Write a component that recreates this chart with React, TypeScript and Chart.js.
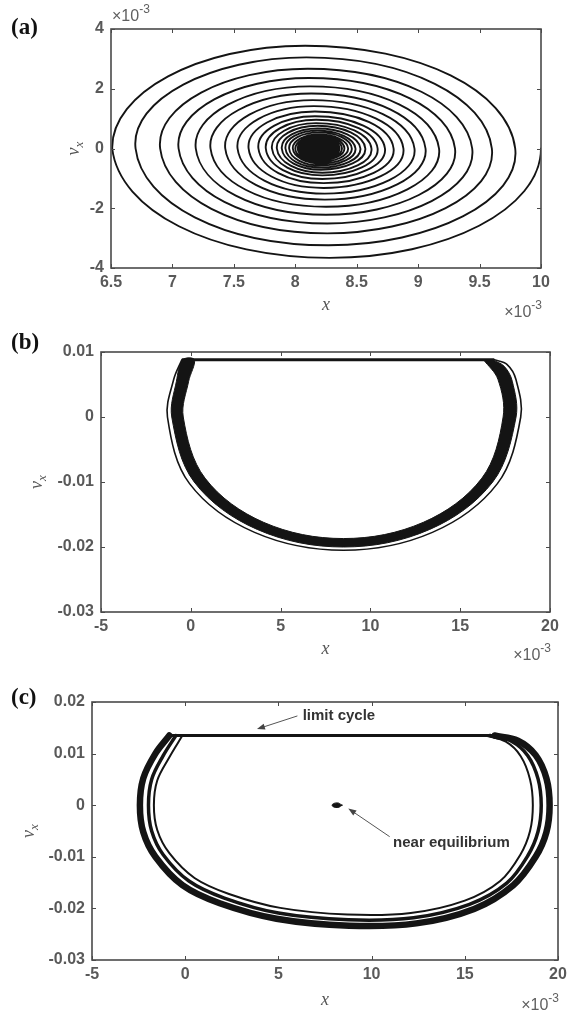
import React, { useEffect, useRef } from 'react';
import { Chart, registerables } from 'chart.js';

Chart.register(...registerables);

const PAGE_W = 576;
const TRACE = '#141414';
const AXIS = '#4a4a4a';
const TICK_TEXT = '#595959';
const SANS = '"Liberation Sans", Arial, Helvetica, sans-serif';
const SERIF = '"Liberation Serif", "Times New Roman", serif';

// ---------------- panel (a) : x in 1e-3, v_x in 1e-3 ----------------
const aXTicks = [6.5, 7, 7.5, 8, 8.5, 9, 9.5, 10];
const aXTickLabels = ['6.5', '7', '7.5', '8', '8.5', '9', '9.5', '10'];
const aYTicks = [-4, -2, 0, 2, 4];
const aYTickLabels = ['-4', '-2', '0', '2', '4'];
// lead-in state a quarter period before the start (segment drawn invisible, only sets the start tangent)
const aLeadInX = [8.2];
const aLeadInV = [3.85];
// turning points on v_x = 0 (right, left, right, left ...)
const aTurnX = [
  10.0, 6.51, 9.79, 6.7, 9.6, 6.9, 9.44, 7.05, 9.3, 7.19, 9.17, 7.31, 9.06, 7.43,
  8.97, 7.53, 8.88, 7.62, 8.8, 7.7, 8.73, 7.76, 8.67, 7.81, 8.62, 7.85, 8.57, 7.89,
  8.53, 7.92, 8.49, 7.95, 8.46, 7.98, 8.43, 8.0, 8.4, 8.02, 8.38, 8.03, 8.36, 8.04,
  8.35, 8.05, 8.34, 8.06, 8.33, 8.07, 8.32, 8.08, 8.31, 8.09, 8.3, 8.1, 8.29, 8.11,
  8.28, 8.12, 8.27, 8.13, 8.26, 8.14, 8.25, 8.15, 8.24, 8.16, 8.23, 8.17, 8.22, 8.18,
  8.21, 8.19, 8.2,
];
// velocity extremes between turning points (bottom, top, bottom ...)
const aPeakV = [
  -3.66, 3.44, -3.24, 3.05, -2.84, 2.67, -2.51, 2.36, -2.22, 2.08, -1.95, 1.84,
  -1.71, 1.62, -1.51, 1.42, -1.32, 1.24, -1.16, 1.08, -1.02, 0.96, -0.9, 0.85,
  -0.81, 0.76, -0.71, 0.67, -0.64, 0.6, -0.57, 0.54, -0.5, 0.47, -0.45, 0.42,
  -0.4, 0.38, -0.37, 0.36, -0.34, 0.33, -0.32, 0.31, -0.3, 0.29, -0.27, 0.26,
  -0.25, 0.24, -0.23, 0.22, -0.21, 0.2, -0.19, 0.18, -0.17, 0.16, -0.15, 0.14,
  -0.13, 0.12, -0.11, 0.1, -0.09, 0.08, -0.07, 0.06, -0.05, 0.04, -0.03, 0.02,
];
const aPeakX = [
  8.28, 8.08, 8.27, 8.09, 8.26, 8.1, 8.26, 8.11, 8.25, 8.12, 8.25, 8.13, 8.24, 8.14,
  8.24, 8.15, 8.23, 8.16, 8.23, 8.16, 8.22, 8.17, 8.22, 8.17, 8.22, 8.18, 8.21, 8.18,
  8.21, 8.18, 8.21, 8.19, 8.21, 8.19, 8.2, 8.2, 8.2, 8.2, 8.2, 8.2, 8.2, 8.2,
  8.2, 8.2, 8.2, 8.2, 8.2, 8.2, 8.2, 8.2, 8.2, 8.2, 8.2, 8.2, 8.2, 8.2,
  8.2, 8.2, 8.2, 8.2, 8.2, 8.2, 8.2, 8.2, 8.2, 8.2, 8.2, 8.2, 8.2, 8.2,
  8.2, 8.2,
];

// ---------------- panel (b) : x in 1e-3 ----------------
const bXTicks = [-5, 0, 5, 10, 15, 20];
const bXTickLabels = ['-5', '0', '5', '10', '15', '20'];
const bYTicks = [-0.03, -0.02, -0.01, 0, 0.01];
const bYTickLabels = ['-0.03', '-0.02', '-0.01', '0', '0.01'];
const bBandOuterX = [16.8, 17.45, 17.9, 18.11, 16.81, 13.3, 8.5, 3.7, 0.19, -1.06, -0.8, -0.45];
const bBandOuterV = [0.0088, 0.0078, 0.0055, 0, -0.01, -0.0173, -0.02, -0.0173, -0.01, 0, 0.0055, 0.0088];
const bBandInnerX = [0.2, -0.12, -0.42, 0.79, 4.05, 8.5, 12.95, 16.21, 17.39, 17.1, 16.3];
const bBandInnerV = [0.0088, 0.0055, 0, -0.0094, -0.0162, -0.0187, -0.0162, -0.0094, 0, 0.0058, 0.0088];
const bThinX = [16.9, 17.6, 18.1, 18.37, 17.07, 13.45, 8.5, 3.55, -0.07, -1.3, -0.95, -0.5];
const bThinV = [0.0088, 0.0081, 0.0058, 0, -0.01025, -0.01775, -0.0205, -0.01775, -0.01025, 0, 0.0058, 0.0088];
const bStickX = [-0.5, 16.9];
const bStickV = [0.0088, 0.0088];

// ---------------- panel (c) : x in 1e-3 ----------------
const cXTicks = [-5, 0, 5, 10, 15, 20];
const cXTickLabels = ['-5', '0', '5', '10', '15', '20'];
const cYTicks = [-0.03, -0.02, -0.01, 0, 0.01, 0.02];
const cYTickLabels = ['-0.03', '-0.02', '-0.01', '0', '0.01', '0.02'];
const cLoopAX = [16.6, 17.85, 18.8, 19.38, 19.55, 19.38, 18.8, 17.6, 15.5, 12.4, 8.8, 4.9, 1.85, -0.15, -1.6, -2.25, -2.43, -2.25, -1.6, -0.85];
const cLoopAV = [0.0135, 0.0125, 0.0097, 0.0052, 0, -0.0052, -0.01, -0.0155, -0.0201, -0.0229, -0.02335, -0.022, -0.019, -0.0155, -0.01, -0.0052, 0, 0.0052, 0.01, 0.0135];
const cLoopBX = [16.35, 17.5, 18.38, 18.93, 19.1, 18.93, 18.38, 17.25, 15.25, 12.25, 8.75, 5.0, 2.1, 0.2, -1.18, -1.8, -1.97, -1.8, -1.18, -0.5];
const cLoopBV = [0.0135, 0.0124, 0.0096, 0.0051, 0, -0.0051, -0.0098, -0.0151, -0.0192, -0.0218, -0.0222, -0.0209, -0.018, -0.0147, -0.0096, -0.005, 0, 0.005, 0.0096, 0.0135];
const cLoopCX = [16.1, 17.2, 18.0, 18.5, 18.65, 18.5, 17.98, 16.9, 15.0, 12.1, 8.7, 5.1, 2.35, 0.5, -0.85, -1.5, -1.68, -1.5, -0.85, -0.15];
const cLoopCV = [0.0135, 0.0123, 0.0095, 0.005, 0, -0.005, -0.0096, -0.0147, -0.0185, -0.0209, -0.0212, -0.0199, -0.0172, -0.0141, -0.0093, -0.0048, 0, 0.0048, 0.0093, 0.0135];
const cStickX = [-0.9, 16.6];
const cStickV = [0.0135, 0.0135];
const cDotX = [8.42, 8.15, 7.88, 8.15, 8.42];
const cDotV = [0, -0.00045, 0, 0.00045, 0];
const cNoteText = ['limit cycle', 'near equilibrium'];
const cNoteX = [6.3, 11.15];
const cNoteV = [0.0173, -0.0073];
const cArrowFromX = [6.02, 10.97];
const cArrowFromV = [0.0173, -0.0061];
const cArrowToX = [3.85, 8.75];
const cArrowToV = [0.01475, -0.00065];

type Pt = { x: number; y: number };
const pts = (xs: number[], vs: number[]): Pt[] => xs.map((x, i) => ({ x, y: vs[i] }));

function spiralPoints(): Pt[] {
  const out: Pt[] = pts(aLeadInX, aLeadInV);
  for (let i = 0; i < aTurnX.length; i++) {
    out.push({ x: aTurnX[i], y: 0 });
    if (i < aPeakV.length) out.push({ x: aPeakX[i], y: aPeakV[i] });
  }
  return out;
}

const line = (data: Pt[], width: number, tension: number, extra: any = {}) => ({
  data,
  showLine: true,
  pointRadius: 0,
  borderColor: TRACE,
  backgroundColor: TRACE,
  borderWidth: width,
  tension,
  fill: false,
  borderJoinStyle: 'round',
  borderCapStyle: 'round',
  ...extra,
});

type Spec = {
  id: string;
  top: number;
  height: number;
  area: { l: number; r: number; t: number; b: number };
  xRange: [number, number];
  yRange: [number, number];
  xTicks: number[];
  xTickLabels: string[];
  yTicks: number[];
  yTickLabels: string[];
  datasets: any[];
  label: string;
  labelY: number;
  xTitleY: number;
  multY: number;
  multTopY?: number;
  vTitleX: number;
  notes?: boolean;
};

const specs: Spec[] = [
  {
    id: 'a',
    top: 0,
    height: 330,
    area: { l: 111, r: 541, t: 29, b: 268 },
    xRange: [6.5, 10],
    yRange: [-4, 4],
    xTicks: aXTicks,
    xTickLabels: aXTickLabels,
    yTicks: aYTicks,
    yTickLabels: aYTickLabels,
    datasets: [
      line(spiralPoints(), 1.9, 0.55, {
        segment: { borderColor: (c: any) => (c.p0DataIndex === 0 ? 'rgba(0,0,0,0)' : undefined) },
      }),
    ],
    label: '(a)',
    labelY: 28,
    xTitleY: 305,
    multY: 313,
    multTopY: 17,
    vTitleX: 75,
  },
  {
    id: 'b',
    top: 330,
    height: 340,
    area: { l: 101, r: 550, t: 22, b: 282 },
    xRange: [-5, 20],
    yRange: [-0.03, 0.01],
    xTicks: bXTicks,
    xTickLabels: bXTickLabels,
    yTicks: bYTicks,
    yTickLabels: bYTickLabels,
    datasets: [
      line(pts(bStickX, bStickV), 3, 0, { borderCapStyle: 'butt' }),
      line(pts(bThinX, bThinV), 1.6, 0.35),
      line(pts(bBandOuterX.concat(bBandInnerX), bBandOuterV.concat(bBandInnerV)), 1, 0.35, { fill: 'shape' }),
    ],
    label: '(b)',
    labelY: 13,
    xTitleY: 319,
    multY: 326,
    vTitleX: 38,
  },
  {
    id: 'c',
    top: 670,
    height: 344,
    area: { l: 92, r: 558, t: 32, b: 290 },
    xRange: [-5, 20],
    yRange: [-0.03, 0.02],
    xTicks: cXTicks,
    xTickLabels: cXTickLabels,
    yTicks: cYTicks,
    yTickLabels: cYTickLabels,
    datasets: [
      line(pts(cStickX, cStickV), 3, 0, { borderCapStyle: 'butt' }),
      line(pts(cDotX, cDotV), 1, 0.55, { fill: 'shape' }),
      line(pts(cLoopCX, cLoopCV), 2, 0.35),
      line(pts(cLoopBX, cLoopBV), 3.5, 0.35),
      line(pts(cLoopAX, cLoopAV), 6.5, 0.35),
    ],
    label: '(c)',
    labelY: 28,
    xTitleY: 330,
    multY: 336,
    vTitleX: 30,
    notes: true,
  },
];

function drawMult(ctx: CanvasRenderingContext2D, x: number, y: number, align: 'left' | 'right') {
  ctx.font = `16px ${SANS}`;
  const w1 = ctx.measureText('\u00d710').width;
  ctx.font = `12px ${SANS}`;
  const w2 = ctx.measureText('-3').width;
  const x0 = align === 'left' ? x : x - w1 - w2;
  ctx.fillStyle = '#606060';
  ctx.textAlign = 'left';
  ctx.textBaseline = 'middle';
  ctx.font = `16px ${SANS}`;
  ctx.fillText('\u00d710', x0, y);
  ctx.font = `12px ${SANS}`;
  ctx.fillText('-3', x0 + w1, y - 7);
}

function drawArrow(ctx: CanvasRenderingContext2D, x1: number, y1: number, x2: number, y2: number) {
  const ang = Math.atan2(y2 - y1, x2 - x1);
  const hl = 8;
  const hw = 3;
  ctx.strokeStyle = '#555';
  ctx.fillStyle = '#444';
  ctx.lineWidth = 1;
  ctx.beginPath();
  ctx.moveTo(x1, y1);
  ctx.lineTo(x2 - Math.cos(ang) * hl * 0.8, y2 - Math.sin(ang) * hl * 0.8);
  ctx.stroke();
  ctx.beginPath();
  ctx.moveTo(x2, y2);
  ctx.lineTo(x2 - Math.cos(ang) * hl - Math.sin(ang) * hw, y2 - Math.sin(ang) * hl + Math.cos(ang) * hw);
  ctx.lineTo(x2 - Math.cos(ang) * hl + Math.sin(ang) * hw, y2 - Math.sin(ang) * hl - Math.cos(ang) * hw);
  ctx.closePath();
  ctx.fill();
}

function decor(spec: Spec) {
  return {
    id: 'decor_' + spec.id,
    afterDraw(chart: any) {
      const ctx: CanvasRenderingContext2D = chart.ctx;
      const { left, right, top, bottom } = chart.chartArea;
      const xs = chart.scales.x;
      const ys = chart.scales.y;
      ctx.save();
      ctx.strokeStyle = AXIS;
      ctx.lineWidth = 1;
      ctx.beginPath();
      const T = 4;
      for (const v of spec.xTicks) {
        const px = Math.round(xs.getPixelForValue(v)) + 0.5;
        ctx.moveTo(px, bottom);
        ctx.lineTo(px, bottom - T);
        ctx.moveTo(px, top);
        ctx.lineTo(px, top + T);
      }
      for (const v of spec.yTicks) {
        const py = Math.round(ys.getPixelForValue(v)) + 0.5;
        ctx.moveTo(left, py);
        ctx.lineTo(left + T, py);
        ctx.moveTo(right, py);
        ctx.lineTo(right - T, py);
      }
      ctx.stroke();
      ctx.lineWidth = 1.6;
      ctx.strokeRect(left, top, right - left, bottom - top);

      ctx.fillStyle = '#111';
      ctx.font = `bold 23px ${SERIF}`;
      ctx.textAlign = 'left';
      ctx.textBaseline = 'middle';
      ctx.fillText(spec.label, 11, spec.labelY);

      ctx.fillStyle = '#555';
      ctx.font = `italic 18px ${SERIF}`;
      ctx.textAlign = 'center';
      ctx.fillText('x', (left + right) / 2, spec.xTitleY);

      ctx.save();
      ctx.translate(spec.vTitleX, (top + bottom) / 2);
      ctx.rotate(-Math.PI / 2);
      ctx.font = `italic 18px ${SERIF}`;
      const wv = ctx.measureText('v').width;
      ctx.font = `italic 13px ${SERIF}`;
      const wx = ctx.measureText('x').width;
      const x0 = -(wv + wx) / 2;
      ctx.textAlign = 'left';
      ctx.textBaseline = 'alphabetic';
      ctx.font = `italic 18px ${SERIF}`;
      ctx.fillText('v', x0, 4);
      ctx.font = `italic 13px ${SERIF}`;
      ctx.fillText('x', x0 + wv, 8);
      ctx.restore();

      drawMult(ctx, right + 1, spec.multY, 'right');
      if (spec.multTopY !== undefined) drawMult(ctx, left + 1, spec.multTopY, 'left');

      if (spec.notes) {
        for (let i = 0; i < cNoteText.length; i++) {
          drawArrow(
            ctx,
            xs.getPixelForValue(cArrowFromX[i]),
            ys.getPixelForValue(cArrowFromV[i]),
            xs.getPixelForValue(cArrowToX[i]),
            ys.getPixelForValue(cArrowToV[i])
          );
          ctx.fillStyle = '#333';
          ctx.font = `bold 15px ${SANS}`;
          ctx.textAlign = 'left';
          ctx.textBaseline = 'middle';
          ctx.fillText(cNoteText[i], xs.getPixelForValue(cNoteX[i]), ys.getPixelForValue(cNoteV[i]));
        }
      }
      ctx.restore();
    },
  };
}

function Panel({ spec }: { spec: Spec }) {
  const ref = useRef<HTMLCanvasElement | null>(null);
  useEffect(() => {
    if (!ref.current) return;
    const lookup = (ticks: number[], labels: string[]) => (value: any) => {
      const i = ticks.findIndex((t) => Math.abs(t - Number(value)) < 1e-9);
      return i >= 0 ? labels[i] : '';
    };
    const tickFont = { family: SANS, size: 16, weight: 'bold' as const };
    const chart = new Chart(ref.current, {
      type: 'scatter',
      data: { datasets: spec.datasets },
      options: {
        responsive: false,
        animation: false,
        devicePixelRatio: 1,
        events: [],
        layout: { padding: { left: 0, top: spec.area.t, right: PAGE_W - spec.area.r, bottom: 0 } },
        plugins: { legend: { display: false }, tooltip: { enabled: false }, title: { display: false } },
        scales: {
          x: {
            type: 'linear',
            position: 'bottom',
            min: spec.xRange[0],
            max: spec.xRange[1],
            grid: { display: false, drawTicks: false },
            border: { display: false },
            afterBuildTicks: (s: any) => {
              s.ticks = spec.xTicks.map((v) => ({ value: v }));
            },
            afterFit: (s: any) => {
              s.height = spec.height - spec.area.b;
            },
            ticks: {
              autoSkip: false,
              maxRotation: 0,
              minRotation: 0,
              padding: 5,
              color: TICK_TEXT,
              font: tickFont,
              callback: lookup(spec.xTicks, spec.xTickLabels),
            },
          },
          y: {
            type: 'linear',
            position: 'left',
            min: spec.yRange[0],
            max: spec.yRange[1],
            grid: { display: false, drawTicks: false },
            border: { display: false },
            afterBuildTicks: (s: any) => {
              s.ticks = spec.yTicks.map((v) => ({ value: v }));
            },
            afterFit: (s: any) => {
              s.width = spec.area.l;
            },
            ticks: {
              autoSkip: false,
              padding: 7,
              color: TICK_TEXT,
              font: tickFont,
              callback: lookup(spec.yTicks, spec.yTickLabels),
            },
          },
        },
      } as any,
      plugins: [decor(spec)],
    });
    return () => chart.destroy();
  }, [spec]);
  return (
    <canvas
      ref={ref}
      width={PAGE_W}
      height={spec.height}
      style={{ position: 'absolute', left: 0, top: spec.top, width: PAGE_W, height: spec.height, display: 'block' }}
    />
  );
}

export default function App() {
  return (
    <div style={{ position: 'absolute', left: 0, top: 0, width: PAGE_W, height: 1014, background: '#fff', overflow: 'hidden' }}>
      {specs.map((s) => (
        <Panel key={s.id} spec={s} />
      ))}
    </div>
  );
}
